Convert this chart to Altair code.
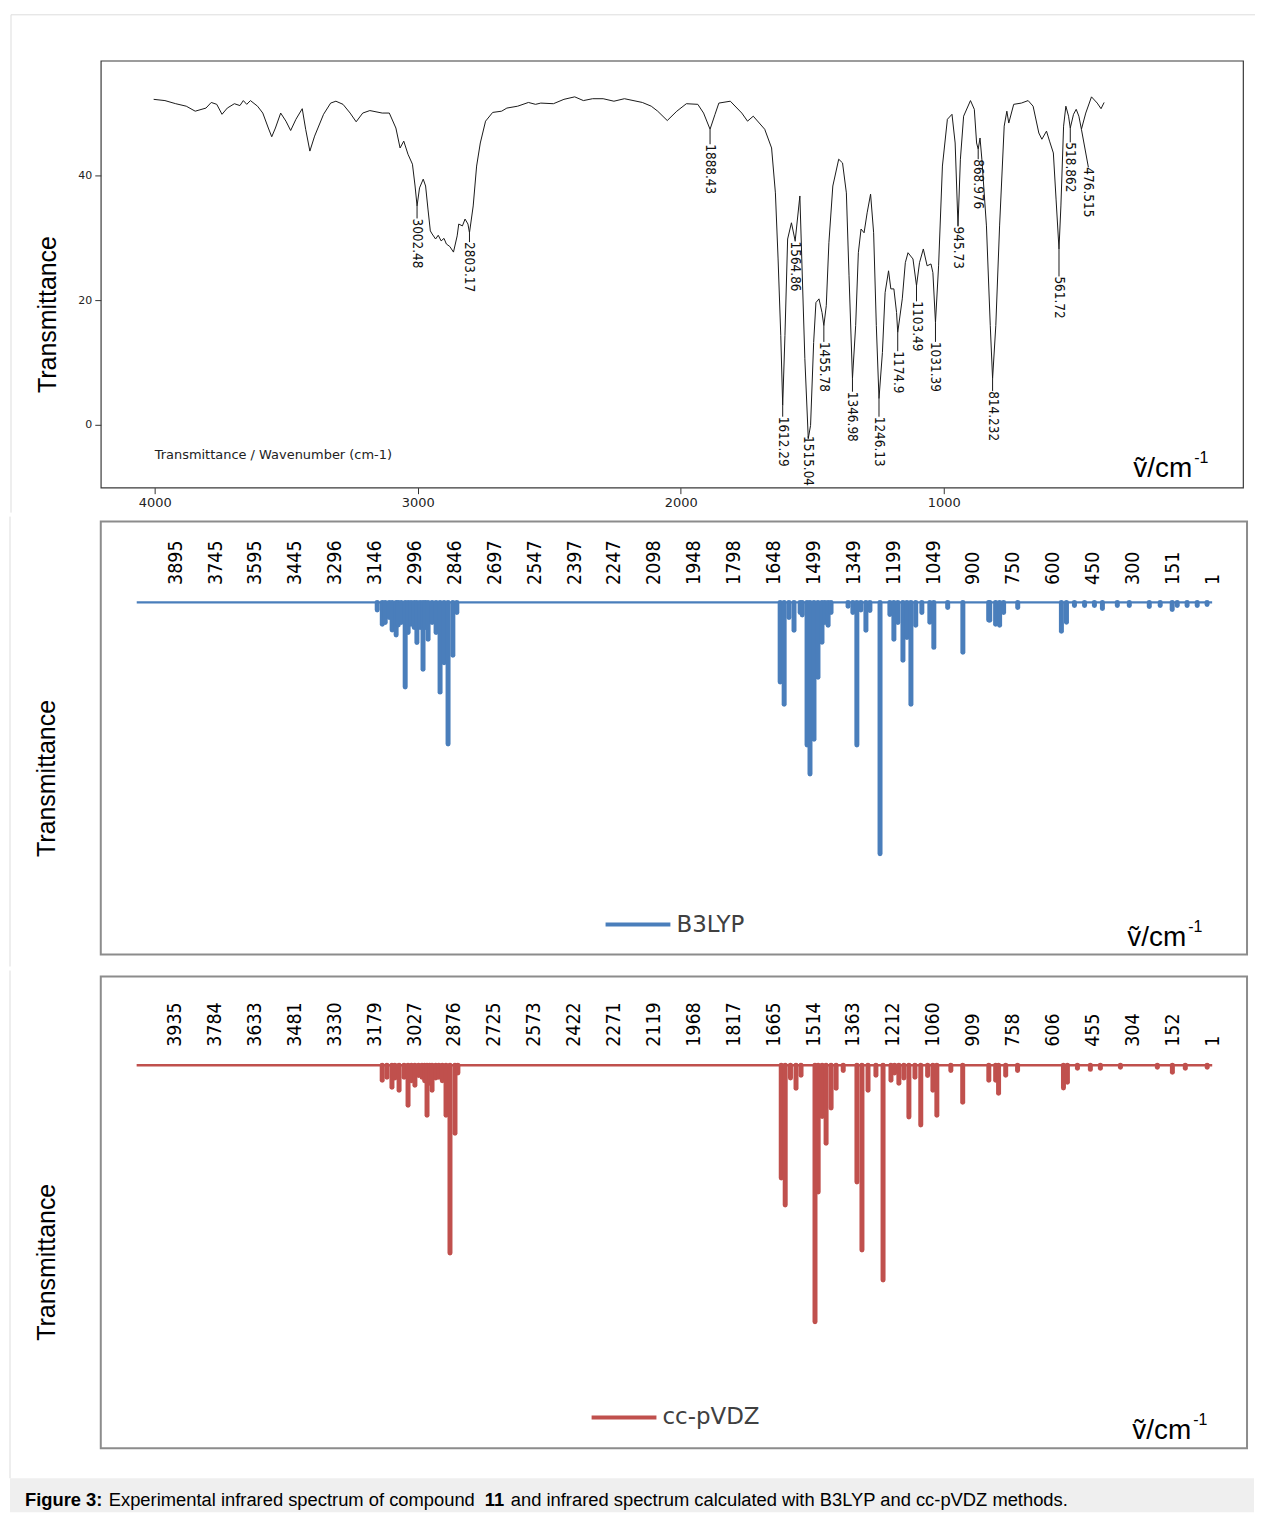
import altair as alt
import pandas as pd

# ---------------- Experimental spectrum (top panel) ----------------
exp_wavenumber = [
    4004, 3961, 3920, 3880, 3846, 3805, 3785, 3764, 3744, 3724, 3697, 3676, 3663, 3650, 3636,
    3609, 3589, 3568, 3555, 3541, 3521, 3501, 3483, 3463, 3439, 3426, 3410, 3392, 3358, 3331,
    3311, 3284, 3257, 3234, 3209, 3182, 3135, 3108, 3083, 3067, 3053, 3037, 3020, 3010, 3002.48,
    2993, 2979, 2970, 2961, 2952, 2945, 2932, 2922, 2911, 2900, 2891, 2878, 2864, 2850, 2844,
    2830, 2820, 2809, 2803.17, 2789, 2776, 2762, 2742, 2715, 2681, 2661, 2620, 2579, 2552, 2532,
    2484, 2444, 2403, 2370, 2335, 2295, 2254, 2214, 2146, 2112, 2087.5, 2051.2, 2014.8, 1978.5,
    1935, 1913.1, 1888.43, 1869.5, 1855, 1811.4, 1767.8, 1746.0, 1724.2, 1680.6, 1654.5, 1640.0,
    1629.8, 1619.6, 1612.29, 1603.7, 1593.5, 1579, 1564.86, 1547, 1539.7, 1528, 1515.04, 1506.3,
    1494.6, 1485.9, 1474.3, 1462.7, 1455.78, 1446.6, 1436.6, 1421.7, 1399.3, 1384.7, 1370.2,
    1360.1, 1346.98, 1334.8, 1324.6, 1314.4, 1302.8, 1291.2, 1278.1, 1266.5, 1256.3, 1246.13,
    1233.1, 1222.9, 1209.8, 1201.1, 1189.5, 1179.3, 1174.9, 1157.6, 1146, 1135.8, 1116.9,
    1103.49, 1092.1, 1077.6, 1063.1, 1048.5, 1041.2, 1031.39, 1019.5, 1005, 986.1, 968.6, 956.6,
    945.73, 936.6, 924.4, 898.3, 883.7, 875, 868.976, 862, 855, 837.6, 823, 814.232, 802, 787.6,
    770.1, 760, 752.7, 733.9, 704.8, 679.1, 660.2, 638.4, 626.8, 609.3, 597.7, 583.2, 572.9,
    561.72, 554.5, 544.3, 535.6, 525.4, 518.862, 506.5, 496.3, 486.2, 476.515, 460, 438.2,
    416.4, 401.9, 390.2,
]
exp_transmittance = [
    52.2, 52.0, 51.5, 51.1, 50.3, 50.8, 51.7, 51.4, 49.8, 50.8, 51.5, 51.2, 52.0, 51.4, 52.0,
    51.1, 50.0, 47.6, 46.2, 47.6, 50.0, 48.7, 47.2, 49.0, 50.7, 47.4, 43.9, 46.3, 49.8, 51.6,
    51.9, 51.4, 50.0, 48.6, 50.0, 50.4, 50.0, 50.0, 47.6, 44.4, 45.5, 43.4, 41.8, 38.3, 35.1,
    38.0, 39.4, 38.3, 34.6, 31.1, 30.6, 29.8, 30.4, 29.5, 29.9, 29.0, 28.6, 27.7, 30.3, 32.2,
    31.9, 33.0, 32.2, 30.8, 35.1, 41.5, 45.2, 48.7, 50.1, 50.3, 50.8, 51.1, 51.7, 51.4, 51.6,
    51.5, 52.2, 52.6, 52.0, 52.3, 52.3, 51.9, 52.3, 51.7, 51.1, 50.3, 48.8, 50.3, 51.5,
    51.4, 50.0, 47.4, 49.8, 51.6, 51.9, 50.0, 48.7, 49.5, 47.4, 44.4, 37.2,
    26.6, 14.3, 3.1, 14.3, 29.8, 32.4, 29.5, 36.7, 26.6, 10.6, -2.2, -0.1,
    13.2, 19.6, 20.2, 18.0, 15.9, 19.1, 29.2, 38.3, 42.6, 42.0, 37.2,
    23.9, 7.4, 15.9, 27.6, 31.4, 30.8, 34.0, 37.0, 30.8, 15.9, 4.2,
    11.6, 21.2, 24.7, 21.8, 21.8, 18.0, 14.8, 20.2, 26.0, 27.6, 26.6,
    22.3, 26.0, 28.2, 25.5, 25.8, 24.4, 16.4, 25.5, 41.5, 49.0, 49.8, 45.2,
    31.9, 42.6, 49.5, 52.0, 50.6, 45.2, 44.2, 46.0, 42.6, 31.9, 15.9, 7.4, 15.9, 31.9,
    47.9, 50.3, 48.4, 51.4, 51.6, 52.0, 51.1, 46.8, 45.8, 47.1, 45.5, 43.6, 36.2,
    28.2, 35.1, 47.9, 51.1, 49.5, 47.6, 49.8, 50.6, 49.5, 47.4, 50.0, 52.6,
    51.6, 50.7, 51.7,
]

peak_labels = ["3002.48", "2803.17", "1888.43", "1612.29", "1564.86", "1515.04", "1455.78",
               "1346.98", "1246.13", "1174.9", "1103.49", "1031.39", "945.73", "868.976",
               "814.232", "561.72", "518.862", "476.515"]
peak_wavenumber = [3002.48, 2803.17, 1888.43, 1612.29, 1564.86, 1515.04, 1455.78, 1346.98,
                   1246.13, 1174.9, 1103.49, 1031.39, 945.73, 868.976, 814.232, 561.72,
                   518.862, 476.515]
peak_T = [35.1, 30.8, 47.4, 3.1, 29.5, -2.2, 15.9, 7.4, 4.2, 14.8, 22.3, 16.4, 31.9, 44.2,
          7.4, 28.2, 47.6, 47.4]
label_wavenumber = [3002.48, 2803.17, 1888.43, 1612.29, 1564.86, 1515.04, 1455.78, 1346.98,
                    1246.13, 1174.9, 1103.49, 1031.39, 945.73, 868.976, 814.232, 561.72,
                    518.862, 450]
label_T = [33.1, 29.3, 45.0, 1.3, 29.4, -1.8, 13.3, 5.3, 1.3, 11.8, 19.8, 13.3, 31.8, 42.6,
           5.4, 23.8, 45.3, 41.3]

# ---------------- B3LYP calculated spectrum ----------------
b3lyp_wavenumber = [
    3136, 3117, 3106, 3091, 3080, 3065, 3057, 3046, 3031, 3020, 3009, 2997, 2987, 2975, 2964,
    2955, 2945, 2930, 2915, 2900, 2885, 2870, 2852, 2837,
    1623, 1608, 1590, 1571, 1548, 1540, 1522, 1511, 1496, 1481, 1466, 1455, 1443, 1432, 1368,
    1350, 1335, 1320, 1301, 1286, 1248, 1211, 1196, 1181, 1162, 1147, 1132, 1114, 1091, 1061,
    1046, 994, 937, 840, 836, 814, 799, 784, 731, 567, 548, 518, 480, 443, 413, 357, 312, 237,
    196, 151, 132, 95, 57, 20,
]
b3lyp_intensity = [
    3, 8.7, 8, 6, 11, 13, 9, 8, 33.7, 12, 8.7, 10, 16, 10, 26.6,
    10, 14.7, 8, 12, 35.7, 24, 56.3, 21, 4,
    31.7, 40.5, 6, 11.1, 4, 5, 56.7, 68.3, 54.4, 29.8, 15.9, 8, 9.1, 4, 1.5,
    4, 56.7, 3, 11.1, 3.2, 100, 4.8, 14.7, 8, 23, 14, 40.5, 9.1, 4, 7.9,
    17.9, 2, 19.8, 7, 7.1, 8.7, 9.1, 4, 2, 11.5, 7.9, 1.2, 1.2, 1.2, 2.4, 1.2, 1.2, 1.6,
    1.2, 2.8, 1.2, 1.2, 1.2, 0.8,
]
b3lyp_ticks = [3895, 3745, 3595, 3445, 3296, 3146, 2996, 2846, 2697, 2547, 2397, 2247, 2098,
               1948, 1798, 1648, 1499, 1349, 1199, 1049, 900, 750, 600, 450, 300, 151, 1]
b3lyp_range = [4039, 1]

# ---------------- cc-pVDZ calculated spectrum ----------------
ccpvdz_wavenumber = [
    3148, 3130, 3111, 3100, 3084, 3065, 3050, 3037, 3024, 3010, 2997, 2987, 2978, 2968, 2959,
    2945, 2933, 2920, 2906, 2891, 2872, 2861,
    1635, 1620, 1600, 1579, 1560, 1507, 1495, 1480, 1465, 1446, 1427, 1400, 1348, 1329, 1306,
    1276, 1249, 1219, 1205, 1189, 1170, 1151, 1128, 1106, 1080, 1060, 1045, 992, 947, 848, 822,
    811, 784, 739, 565, 550, 512, 463, 425, 349, 209, 152, 103, 20,
]
ccpvdz_intensity = [
    5.8, 4.7, 8.6, 5, 9.7, 4.7, 15.6, 6, 7.8, 4, 4.7, 6, 19.5, 7, 9.7,
    5, 4.7, 6, 19.5, 73.2, 26.5, 3,
    44, 54.5, 5, 9, 3.9, 100, 49.4, 20, 30.4, 16.7, 9, 2, 45.5, 72, 9.7,
    3.9, 83.7, 5.8, 3, 7, 5, 20.2, 4.7, 23.3, 4, 9.7, 19.5, 2, 14.4, 5.8, 5.8,
    10.9, 3.9, 2, 8.9, 6.6, 1.2, 1.6, 1.2, 0.8, 0.8, 2.7, 1.2, 0.8,
]
ccpvdz_ticks = [3935, 3784, 3633, 3481, 3330, 3179, 3027, 2876, 2725, 2573, 2422, 2271, 2119,
                1968, 1817, 1665, 1514, 1363, 1212, 1060, 909, 758, 606, 455, 304, 152, 1]
ccpvdz_range = [4079, 1]

BLUE = "#4a7ebb"
RED = "#c0504d"
BORDER = "#dddddd"
NARROW = "Liberation Sans Narrow, Arial Narrow, DejaVu Sans Condensed, sans-serif"
ARIAL = "Liberation Sans, Arial, sans-serif"

one = pd.DataFrame({"a": [0]})


def vtext(x, y, s, size, font=ARIAL, weight="normal", color="#000", align="left", baseline="alphabetic"):
    return alt.Chart(one).mark_text(
        align=align, baseline=baseline, font=font, fontSize=size, fontWeight=weight, color=color
    ).encode(x=alt.value(x), y=alt.value(y), text=alt.value(s))


def hline(x1, x2, y, color, width):
    return alt.Chart(one).mark_rule(color=color, strokeWidth=width).encode(
        x=alt.value(x1), x2=alt.value(x2), y=alt.value(y))


def vline(x, y1, y2, color, width):
    return alt.Chart(one).mark_rule(color=color, strokeWidth=width).encode(
        x=alt.value(x), y=alt.value(y1), y2=alt.value(y2))


def nu_label(x, y):
    return [vtext(x, y, "\u1e7d/cm", 28), vtext(x + 61, y - 14, "-1", 16)]


# ================= TOP PANEL =================
W1, H1 = 1145, 428
xs1 = alt.Scale(domain=[4205, -138], nice=False, zero=False)
ys1 = alt.Scale(domain=[-10.08, 58.4], nice=False, zero=False)
xaxis1 = alt.Axis(values=[4000, 3000, 2000, 1000], format="d", title=None, grid=False,
                  domain=False, ticks=True, tickSize=6, tickColor="#333", labelFont="DejaVu Sans",
                  labelFontSize=13, labelColor="#222", labelPadding=3, labelFlush=False,
                  labelOverlap=False)
yaxis1 = alt.Axis(values=[0, 20, 40], format="d", title="Transmittance", titleX=-53, titleY=254,
                  titleAngle=270, titleAlign="center", titleBaseline="middle", titleFont=ARIAL,
                  titleFontSize=25, titleFontWeight="normal", titleColor="#000", grid=False,
                  domain=False, ticks=True, tickSize=6, tickColor="#333", labelFont="DejaVu Sans",
                  labelFontSize=11, labelColor="#222", labelPadding=3)

exp_df = pd.DataFrame({"v": exp_wavenumber, "T": exp_transmittance,
                       "i": list(range(len(exp_wavenumber)))})
lab_df = pd.DataFrame({"v": peak_wavenumber, "pT": peak_T, "lv": label_wavenumber,
                       "lT": label_T, "label": peak_labels})

exp_line = alt.Chart(exp_df).mark_line(color="#1a1a1a", strokeWidth=1).encode(
    x=alt.X("v:Q", scale=xs1, axis=xaxis1),
    y=alt.Y("T:Q", scale=ys1, axis=yaxis1),
    order="i:Q",
)
leaders = alt.Chart(lab_df).mark_rule(color="#1a1a1a", strokeWidth=1).encode(
    x=alt.X("v:Q", scale=xs1), x2="lv:Q",
    y=alt.Y("pT:Q", scale=ys1), y2="lT:Q",
)
peak_text = alt.Chart(lab_df).mark_text(
    angle=90, align="left", baseline="middle", font=NARROW, fontSize=13.5, color="#111"
).encode(
    x=alt.X("lv:Q", scale=xs1),
    y=alt.Y("lT:Q", scale=ys1),
    text="label:N",
)

top = alt.layer(
    exp_line, leaders, peak_text,
    vtext(54, 399, "Transmittance / Wavenumber (cm-1)", 13, font="DejaVu Sans", color="#222"),
    *nu_label(1035, 417),
    hline(-90, 1157, -46, BORDER, 1),
    vline(-90, -46, 453, BORDER, 1),
).properties(width=W1, height=H1,
             view=alt.ViewBackground(stroke="#3a3a3a", strokeWidth=1.2))


# ================= CALCULATED PANELS =================
def calc_panel(wn, inten, ticks, rng, color, name, dom_x, dom_y, height, axis_off, title_y,
               legend_x, legend_y, nu_xy, vl_top, vl_bottom, extra=()):
    xs = alt.Scale(domain=dom_x, nice=False, zero=False)
    ys = alt.Scale(domain=dom_y, nice=False, zero=False)
    xaxis = alt.Axis(orient="top", values=ticks, format="d", labelAngle=270, labelAlign="left",
                     labelBaseline="middle", ticks=False, tickSize=0, domain=False, grid=False,
                     labelPadding=0, offset=axis_off, labelFont=NARROW, labelFontSize=19.5,
                     labelColor="#000", labelFlush=False, labelOverlap=False, title=None)
    yaxis = alt.Axis(labels=False, ticks=False, domain=False, grid=False, title="Transmittance",
                     titleX=-54, titleY=title_y, titleAngle=270, titleAlign="center",
                     titleBaseline="middle", titleFont=ARIAL, titleFontSize=25,
                     titleFontWeight="normal", titleColor="#000")
    df = pd.DataFrame({"v": wn, "I": [-i for i in inten], "zero": [0] * len(wn)})
    base_df = pd.DataFrame({"v0": [rng[0]], "v1": [rng[1]], "zero": [0]})
    baseline = alt.Chart(base_df).mark_rule(color=color, strokeWidth=2.5).encode(
        x=alt.X("v0:Q", scale=xs, axis=xaxis), x2="v1:Q",
        y=alt.Y("zero:Q", scale=ys, axis=yaxis),
    )
    sticks = alt.Chart(df).mark_rule(color=color, strokeWidth=5, strokeCap="round").encode(
        x=alt.X("v:Q", scale=xs),
        y=alt.Y("I:Q", scale=ys), y2="zero:Q",
    )
    layers = [
        baseline, sticks,
        hline(legend_x, legend_x + 65, legend_y, color, 4),
        vtext(legend_x + 71, legend_y, name, 23, font="DejaVu Sans", color="#404040",
              baseline="middle"),
        *nu_label(*nu_xy),
        vline(-91, vl_top, vl_bottom, BORDER, 1),
        *extra,
    ]
    return alt.layer(*layers).properties(
        width=1149, height=height,
        view=alt.ViewBackground(stroke="#8c8c8c", strokeWidth=2))


mid = calc_panel(b3lyp_wavenumber, b3lyp_intensity, b3lyp_ticks, b3lyp_range, BLUE, "B3LYP",
                 [4174, -130], [-140.08, 32.14], 434, -63, 257, 506, 404, (1029, 425), -5, 446)

caption = [
    alt.Chart(one).mark_rect(color="#efefef").encode(
        x=alt.value(-91), x2=alt.value(1156), y=alt.value(503), y2=alt.value(537)),
    vtext(-76, 531, "Figure 3:", 18.4, weight="bold"),
    vtext(8, 531, "Experimental infrared spectrum of compound", 18.4),
    vtext(385, 531, "11", 18.4, weight="bold"),
    vtext(411, 531, "and infrared spectrum calculated with B3LYP and cc-pVDZ methods.", 18.4),
]

bot = calc_panel(ccpvdz_wavenumber, ccpvdz_intensity, ccpvdz_ticks, ccpvdz_range, RED,
                 "cc-pVDZ", [4215, -131], [-149.4, 34.63], 473, -70, 286, 492, 442,
                 (1034, 464), -6, 503, extra=caption)

chart = alt.vconcat(top, mid, bot, spacing=0).properties(
    padding={"left": 0, "top": 3, "right": 0, "bottom": 0},
    background="white",
)

chart.save("out.html", embed_options={"renderer": "svg", "actions": False})
